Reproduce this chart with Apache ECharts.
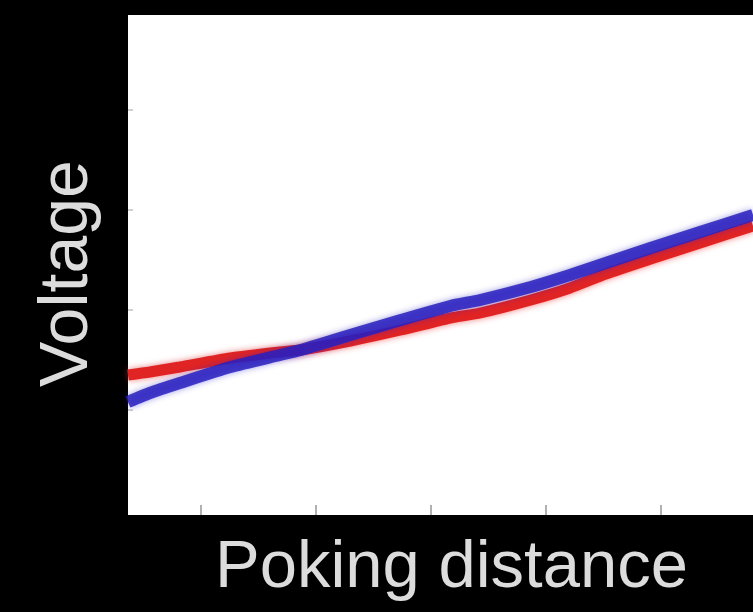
<!DOCTYPE html>
<html>
<head>
<meta charset="utf-8">
<script src="https://cdn.jsdelivr.net/npm/echarts@6/dist/echarts.min.js"></script>
<style>
html,body{margin:0;padding:0;background:#000;}
#c{width:753px;height:612px;}
</style>
</head>
<body>
<div id="c"></div>
<script>
// Poking distance (arbitrary units) and voltage (arbitrary units)
const xTicks = [1, 2, 3, 4, 5, 6];
const yTicks = [2, 3, 4, 5];
const distanceBlue = [0.37, 0.56, 0.82, 1.26, 1.69, 1.87, 2.30, 2.74, 3.17, 3.43, 3.87, 4.21, 4.52, 4.91, 5.34, 5.80];
const voltageBlue  = [2.08, 2.17, 2.27, 2.43, 2.55, 2.60, 2.75, 2.90, 3.04, 3.10, 3.23, 3.35, 3.47, 3.62, 3.78, 3.95];
const distanceRed  = [0.37, 0.56, 0.82, 1.26, 1.69, 1.87, 2.30, 2.74, 3.17, 3.43, 3.87, 4.21, 4.52, 4.91, 5.34, 5.80];
const voltageRed   = [2.35, 2.38, 2.43, 2.52, 2.58, 2.60, 2.69, 2.80, 2.92, 2.97, 3.10, 3.22, 3.36, 3.51, 3.67, 3.84];

const chart = echarts.init(document.getElementById('c'));
const pair = (xs, ys) => xs.map((x, i) => [x, ys[i]]);
chart.setOption({
  backgroundColor: '#000',
  animation: false,
  grid: {left: 128, top: 15, right: 0, height: 500, show: true, backgroundColor: '#fff', borderWidth: 0},
  xAxis: {
    type: 'value', min: 0.37, max: 5.80,
    axisLine: {show: false},
    splitLine: {show: false},
    axisLabel: {show: false},
    axisTick: {show: true, inside: true, length: 10, customValues: xTicks, lineStyle: {color: '#b0b0b0', width: 2}}
  },
  yAxis: {
    type: 'value', min: 0.95, max: 5.95,
    axisLine: {show: false},
    splitLine: {show: false},
    axisLabel: {show: false},
    axisTick: {show: true, inside: true, length: 5, customValues: yTicks, lineStyle: {color: '#d0d0d0', width: 2}}
  },
  graphic: [
    {type: 'text', left: 215, top: 535, style: {text: 'Poking distance', fill: '#dcdcdc', font: '67px "Liberation Sans", Arial, sans-serif'}},
    {type: 'text', x: 34, y: 387, rotation: Math.PI / 2, style: {text: 'Voltage', fill: '#dcdcdc', font: '68px "Liberation Sans", Arial, sans-serif'}}
  ],
  series: [
    {type: 'line', data: pair(distanceRed, voltageRed), showSymbol: false, smooth: 0.2,
     lineStyle: {color: '#e02424', width: 11, shadowColor: 'rgba(230,40,40,0.6)', shadowBlur: 6}},
    {type: 'line', data: pair(distanceBlue, voltageBlue), showSymbol: false, smooth: 0.2,
     lineStyle: {color: 'rgba(40,30,190,0.85)', width: 12, shadowColor: 'rgba(40,30,200,0.5)', shadowBlur: 6}}
  ]
});
</script>
</body>
</html>
